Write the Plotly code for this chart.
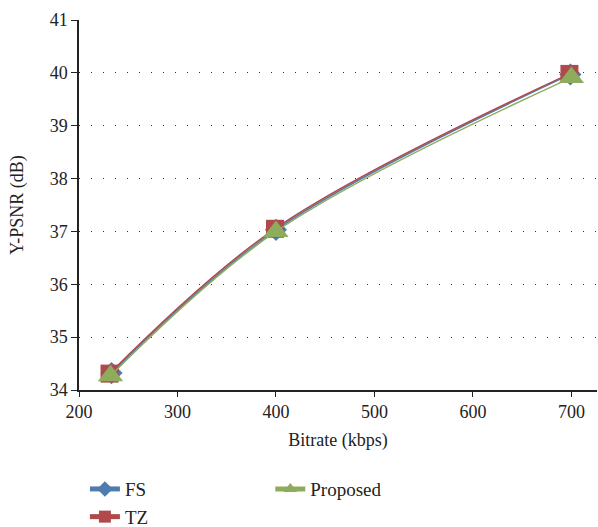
import plotly.graph_objects as go

# Rate-distortion data: bitrate (kbps) vs luma PSNR (dB)
fs_bitrate = [233, 400, 699]
fs_psnr = [34.32, 37.03, 39.97]

tz_bitrate = [231, 399, 698]
tz_psnr = [34.31, 37.05, 39.98]

prop_bitrate = [232, 400, 700]
prop_psnr = [34.27, 37.0, 39.91]

x_ticks = [200, 300, 400, 500, 600, 700]
y_ticks = [34, 35, 36, 37, 38, 39, 40, 41]

BLUE = "#4F7BAE"
RED = "#B0494C"
GREEN = "#8DAD5C"
FONT = "'Liberation Serif', 'Times New Roman', serif"

fig = go.Figure()

fig.add_trace(go.Scatter(
    x=fs_bitrate, y=fs_psnr, name="FS", mode="lines+markers",
    line=dict(color=BLUE, width=1.5, shape="spline"),
    marker=dict(symbol="diamond", size=17, color=BLUE),
    legend="legend",
))
fig.add_trace(go.Scatter(
    x=tz_bitrate, y=tz_psnr, name="TZ", mode="lines+markers",
    line=dict(color=RED, width=1.5, shape="spline"),
    marker=dict(symbol="square", size=18, color=RED),
    legend="legend",
))
fig.add_trace(go.Scatter(
    x=prop_bitrate, y=prop_psnr, name="Proposed", mode="lines+markers",
    line=dict(color=GREEN, width=1.5, shape="spline"),
    marker=dict(symbol="triangle-up", size=22, color=GREEN),
    legend="legend2",
))

legend_font = dict(family=FONT, size=19, color="#222")

fig.update_layout(
    width=598, height=527,
    margin=dict(l=79, r=1, t=20, b=137, autoexpand=False),
    paper_bgcolor="white", plot_bgcolor="white",
    font=dict(family=FONT, size=18, color="#222"),
    legend=dict(
        xref="container", yref="container",
        x=0.142, y=0.108, xanchor="left", yanchor="top",
        orientation="v", tracegroupgap=0, itemsizing="constant",
        font=legend_font, bgcolor="rgba(0,0,0,0)",
    ),
    legend2=dict(
        xref="container", yref="container",
        x=0.452, y=0.108, xanchor="left", yanchor="top",
        orientation="v", itemsizing="constant",
        font=legend_font, bgcolor="rgba(0,0,0,0)",
    ),
    xaxis=dict(
        range=[200, 726], tickvals=x_ticks, showgrid=False, zeroline=False,
        showline=True, linecolor="#222", linewidth=1.5,
        ticks="outside", ticklen=5, tickcolor="#222",
        tickfont=dict(family=FONT, size=18),
        title=dict(text="Bitrate (kbps)", font=dict(family=FONT, size=18), standoff=12),
    ),
    yaxis=dict(
        range=[34, 41], tickvals=y_ticks, zeroline=False,
        showgrid=True, gridcolor="#333", griddash="1px,11px", gridwidth=1,
        showline=True, linecolor="#222", linewidth=1.5,
        ticks="outside", ticklen=6, tickcolor="#222",
        tickfont=dict(family=FONT, size=18),
    ),
    annotations=[dict(
        text="Y-PSNR (dB)", textangle=-90, showarrow=False,
        xref="paper", yref="paper", x=-0.12, y=0.5,
        xanchor="center", yanchor="middle",
        font=dict(family=FONT, size=18, color="#222"),
    )],
)

fig.write_html("out.html")
